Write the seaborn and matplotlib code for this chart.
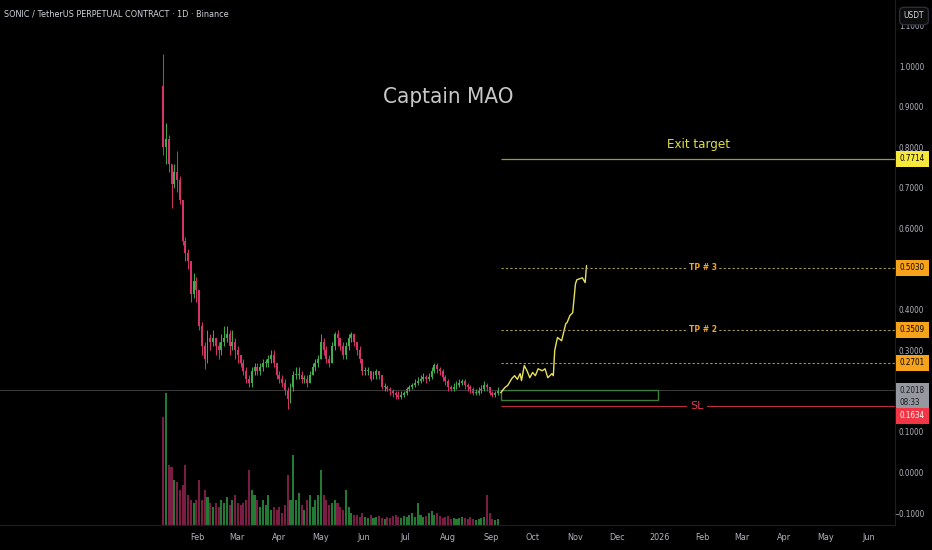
import matplotlib
matplotlib.use('Agg')
import matplotlib.pyplot as plt
import matplotlib.dates as mdates
import matplotlib.transforms as mtransforms
from matplotlib.patches import Rectangle
import seaborn as sns
import pandas as pd
import numpy as np

# Velas de 2 dias (cierre, maximo, minimo)
first_open = 0.95
closes = [0.80, 0.82, 0.76, 0.71, 0.74, 0.72, 0.67, 0.57, 0.54, 0.52,
          0.44, 0.47, 0.45, 0.36, 0.31, 0.28, 0.33, 0.32, 0.33, 0.31,
          0.30, 0.32, 0.33, 0.34, 0.31, 0.32, 0.30, 0.29, 0.27, 0.25,
          0.23, 0.22, 0.25, 0.26, 0.25, 0.26, 0.27, 0.27, 0.28, 0.29,
          0.27, 0.24, 0.23, 0.22, 0.20, 0.18, 0.21, 0.24, 0.24, 0.24,
          0.23, 0.23, 0.22, 0.24, 0.26, 0.27, 0.28, 0.32, 0.30, 0.28,
          0.27, 0.31, 0.34, 0.33, 0.31, 0.29, 0.31, 0.33, 0.34, 0.32,
          0.30, 0.28, 0.25, 0.25, 0.25, 0.23, 0.24, 0.25, 0.24, 0.21,
          0.21, 0.205, 0.20, 0.195, 0.19, 0.185, 0.19, 0.195, 0.205, 0.21,
          0.215, 0.22, 0.225, 0.23, 0.235, 0.23, 0.235, 0.25, 0.265, 0.255,
          0.25, 0.235, 0.225, 0.21, 0.205, 0.21, 0.215, 0.22, 0.225, 0.215,
          0.21, 0.205, 0.195, 0.195, 0.20, 0.205, 0.215, 0.21, 0.195, 0.19,
          0.195, 0.2018]
highs = [1.03, 0.86, 0.83, 0.76, 0.76, 0.79, 0.73, 0.67, 0.58, 0.55,
         0.52, 0.49, 0.48, 0.45, 0.37, 0.32, 0.35, 0.34, 0.35, 0.33,
         0.32, 0.34, 0.36, 0.36, 0.35, 0.35, 0.33, 0.31, 0.29, 0.28,
         0.26, 0.24, 0.26, 0.27, 0.27, 0.27, 0.28, 0.28, 0.29, 0.30,
         0.30, 0.27, 0.25, 0.24, 0.23, 0.21, 0.22, 0.25, 0.26, 0.26,
         0.25, 0.24, 0.24, 0.25, 0.27, 0.28, 0.29, 0.34, 0.33, 0.31,
         0.29, 0.32, 0.345, 0.35, 0.33, 0.32, 0.32, 0.34, 0.345, 0.34,
         0.32, 0.31, 0.28, 0.26, 0.26, 0.25, 0.25, 0.255, 0.25, 0.24,
         0.22, 0.215, 0.21, 0.205, 0.20, 0.20, 0.20, 0.20, 0.21, 0.215,
         0.22, 0.23, 0.235, 0.24, 0.245, 0.24, 0.245, 0.26, 0.27, 0.27,
         0.26, 0.255, 0.24, 0.23, 0.215, 0.22, 0.225, 0.23, 0.23, 0.23,
         0.22, 0.215, 0.21, 0.205, 0.21, 0.215, 0.225, 0.22, 0.21, 0.20,
         0.20, 0.21]
lows = [0.78, 0.76, 0.74, 0.65, 0.70, 0.69, 0.66, 0.56, 0.52, 0.50,
        0.42, 0.43, 0.42, 0.35, 0.29, 0.255, 0.27, 0.30, 0.31, 0.29,
        0.28, 0.29, 0.31, 0.32, 0.29, 0.30, 0.28, 0.27, 0.26, 0.24,
        0.22, 0.21, 0.21, 0.24, 0.24, 0.24, 0.25, 0.26, 0.26, 0.27,
        0.26, 0.23, 0.22, 0.21, 0.19, 0.157, 0.17, 0.20, 0.23, 0.23,
        0.22, 0.22, 0.21, 0.22, 0.24, 0.25, 0.26, 0.28, 0.29, 0.27,
        0.26, 0.27, 0.30, 0.31, 0.30, 0.28, 0.28, 0.30, 0.32, 0.31,
        0.29, 0.27, 0.24, 0.24, 0.24, 0.225, 0.23, 0.23, 0.23, 0.205,
        0.20, 0.20, 0.19, 0.185, 0.18, 0.18, 0.18, 0.185, 0.19, 0.20,
        0.205, 0.21, 0.215, 0.22, 0.225, 0.22, 0.225, 0.23, 0.245, 0.245,
        0.24, 0.225, 0.215, 0.20, 0.20, 0.20, 0.205, 0.21, 0.215, 0.205,
        0.20, 0.195, 0.19, 0.19, 0.19, 0.195, 0.20, 0.20, 0.19, 0.185,
        0.185, 0.19]
volumes = [108, 132, 60, 58, 45, 43, 35, 40, 60, 30,
           25, 22, 25, 45, 25, 35, 28, 22, 18, 22,
           18, 25, 22, 28, 20, 25, 30, 22, 20, 22,
           25, 55, 35, 30, 25, 18, 25, 20, 30, 15,
           18, 15, 18, 12, 20, 50, 25, 70, 25, 32,
           20, 15, 25, 30, 18, 25, 30, 55, 30, 25,
           20, 22, 25, 22, 18, 15, 35, 18, 12, 10,
           10, 8, 12, 8, 7, 10, 7, 8, 9, 7,
           6, 8, 7, 9, 10, 8, 7, 9, 8, 10,
           12, 8, 22, 10, 8, 9, 12, 14, 10, 12,
           9, 7, 8, 9, 6, 7, 6, 7, 8, 7,
           6, 8, 6, 5, 6, 7, 8, 30, 12, 6,
           5, 6]

# Proyeccion (linea amarilla)
proj_dates = ['2025-09-08', '2025-09-11', '2025-09-13', '2025-09-16', '2025-09-18',
              '2025-09-20', '2025-09-22', '2025-09-23', '2025-09-25', '2025-09-27',
              '2025-09-29', '2025-10-01', '2025-10-03', '2025-10-05', '2025-10-08',
              '2025-10-10', '2025-10-12', '2025-10-15', '2025-10-16', '2025-10-17',
              '2025-10-19', '2025-10-22', '2025-10-25', '2025-10-26', '2025-10-28',
              '2025-10-30', '2025-11-01', '2025-11-02', '2025-11-06', '2025-11-08',
              '2025-11-09']
proj_values = [0.196, 0.209, 0.214, 0.231, 0.238, 0.229, 0.243, 0.226, 0.263, 0.250,
               0.233, 0.246, 0.238, 0.255, 0.250, 0.255, 0.233, 0.243, 0.238, 0.300,
               0.332, 0.324, 0.366, 0.369, 0.386, 0.393, 0.464, 0.474, 0.479, 0.467,
               0.509]

# Niveles
exit_target = 0.7714
tp_levels = [0.5030, 0.3509, 0.2701]
tp_labels = ['TP # 3', 'TP # 2', '']
last_price = 0.2018
stop_loss = 0.1634
zone_low = 0.178
y_ticks = [-0.1, 0.0, 0.1, 0.3, 0.4, 0.6, 0.7, 0.8, 0.9, 1.0, 1.1]

# Estilo
sns.set_style('dark', {'axes.facecolor': 'black', 'figure.facecolor': 'black'})
plt.rcParams['font.family'] = ['DejaVu Sans']

GREEN = '#3fae49'
RED = '#d6336c'
GRAY = '#b2b5be'

fig = plt.figure(figsize=(9.32, 5.5), dpi=100)
fig.patch.set_facecolor('black')
rect = [0, 25 / 550, 895 / 932, 525 / 550]
ax_vol = fig.add_axes(rect)
ax = fig.add_axes(rect, sharex=ax_vol)
ax.patch.set_alpha(0)
ax_vol.set_facecolor('black')

dates = pd.date_range('2025-01-07', periods=len(closes), freq='2D')
opens = [first_open] + closes[:-1]
x = mdates.date2num(dates)
o = np.array(opens)
c = np.array(closes)
up = c >= o
colors = [GREEN if u else RED for u in up]

# Volumen
vol_colors = ['#237a32' if u else '#7a1c44' for u in up]
ax_vol.bar(x, volumes, width=1.5, color=vol_colors, linewidth=0)
ax_vol.set_ylim(0, 525)
ax_vol.set_yticks([])

# Velas
ax.vlines(x, lows, highs, colors=colors, linewidth=0.7)
body_h = np.maximum(np.abs(c - o), 0.002)
ax.bar(x, body_h, bottom=np.minimum(o, c), width=1.4, color=colors, linewidth=0)

# Linea de proyeccion
sns.lineplot(x=pd.to_datetime(proj_dates), y=proj_values, ax=ax,
             color='#e8e05a', linewidth=1.0)

start = mdates.date2num(pd.Timestamp('2025-09-08'))
x_min = mdates.date2num(pd.Timestamp('2024-09-11'))
x_max = mdates.date2num(pd.Timestamp('2026-06-20'))

ax.axhline(last_price, color='#3c3c3c', linewidth=0.7, zorder=1)
ax.hlines(exit_target, start, x_max, color='#9e9a2e', linewidth=0.9)
for lvl in tp_levels:
    ax.hlines(lvl, start, x_max, color='#a89a55', linewidth=0.8, linestyle=(0, (2, 2)))
ax.hlines(stop_loss, start, x_max, color='#b8303f', linewidth=0.8)
zone_end = mdates.date2num(pd.Timestamp('2025-12-31'))
ax.add_patch(Rectangle((start, zone_low), zone_end - start, last_price - zone_low,
                       fill=False, edgecolor='#3d7d3d', linewidth=1.0))

label_x = mdates.date2num(pd.Timestamp('2026-02-01'))
for lvl, lab in zip(tp_levels, tp_labels):
    if lab:
        ax.text(label_x, lvl, lab, color='#f5a623', fontsize=5.5, fontweight='bold',
                ha='center', va='center',
                bbox=dict(boxstyle='square,pad=0.3', fc='black', ec='none'))
ax.text(mdates.date2num(pd.Timestamp('2026-01-28')), stop_loss, 'SL', color='#e03a4e',
        fontsize=8, ha='center', va='center',
        bbox=dict(boxstyle='square,pad=0.3', fc='black', ec='none'))
ax.text(mdates.date2num(pd.Timestamp('2026-01-29')), 0.808, 'Exit target',
        color='#e0e040', fontsize=9.5, ha='center', va='center',
        family='DejaVu Sans', stretch='condensed')
ax.text(mdates.date2num(pd.Timestamp('2025-08-01')), 0.924, 'Captain MAO',
        color='#c8c8c8', fontsize=16, ha='center', va='center',
        family='DejaVu Sans', stretch='condensed')

ax.set_xlim(x_min, x_max)
ax.set_ylim(-0.1294, 1.1624)

# Eje Y a la derecha (alineado a la derecha)
ax.yaxis.tick_right()
ax.set_yticks(y_ticks)
ax.set_yticklabels([f'{t:.4f}'.replace('-', '\u2212') for t in y_ticks])
ax.tick_params(axis='y', length=0, pad=21, labelsize=5.8, labelcolor=GRAY)
for lab in ax.get_yticklabels():
    lab.set_horizontalalignment('right')
    lab.set_fontstretch('condensed')

# Eje X con meses
months = pd.date_range('2025-02-01', '2026-06-01', freq='MS')
ax.set_xticks(mdates.date2num(months))
ax.set_xticklabels(['2026' if (m.month == 1) else m.strftime('%b') for m in months])
ax.tick_params(axis='x', length=0, pad=6, labelsize=6.5, labelcolor=GRAY)
for lab in ax.get_xticklabels():
    lab.set_fontstretch('condensed')
ax_vol.tick_params(axis='x', length=0, labelbottom=False)
ax.set_xlabel('')
ax.set_ylabel('')
ax.grid(False)
ax_vol.grid(False)
for a in (ax, ax_vol):
    for s in a.spines.values():
        s.set_visible(False)
ax.spines['bottom'].set_visible(True)
ax.spines['bottom'].set_color('#1e1e1e')
ax.spines['right'].set_visible(True)
ax.spines['right'].set_color('#1e1e1e')

# Etiquetas de precio en el eje
tag_trans = mtransforms.blended_transform_factory(fig.transFigure, ax.transData)


def price_tag(value, text, fc, tc, y=None):
    ax.text(925 / 932, value if y is None else y, text, transform=tag_trans,
            fontsize=5.8, color=tc, ha='right', va='center', clip_on=False,
            linespacing=1.3, zorder=10, stretch='condensed', multialignment='left',
            bbox=dict(boxstyle='square,pad=0.45', fc=fc, ec='none'))


price_tag(exit_target, f'{exit_target:.4f}', '#f7e93b', 'black')
for lvl in tp_levels:
    price_tag(lvl, f'{lvl:.4f}', '#f7a21b', 'black')
price_tag(last_price, f'{last_price:.4f}\n08:33', '#9598a1', '#1a1a1a', y=0.1868)
price_tag(stop_loss, f'{stop_loss:.4f}', '#f23645', 'white', y=0.1395)

fig.text(4 / 932, 1 - 14 / 550, 'SONIC / TetherUS PERPETUAL CONTRACT \u00b7 1D \u00b7 Binance',
         color='#d1d4dc', fontsize=6.5, ha='left', va='center', stretch='condensed')
fig.text(914 / 932, 1 - 16 / 550, 'USDT', color='#d1d4dc', fontsize=6,
         ha='center', va='center', stretch='condensed',
         bbox=dict(boxstyle='round,pad=0.5', fc='#0c0c0c', ec='#2a2e39'))

fig.savefig('out.png', dpi=100, facecolor='black')
